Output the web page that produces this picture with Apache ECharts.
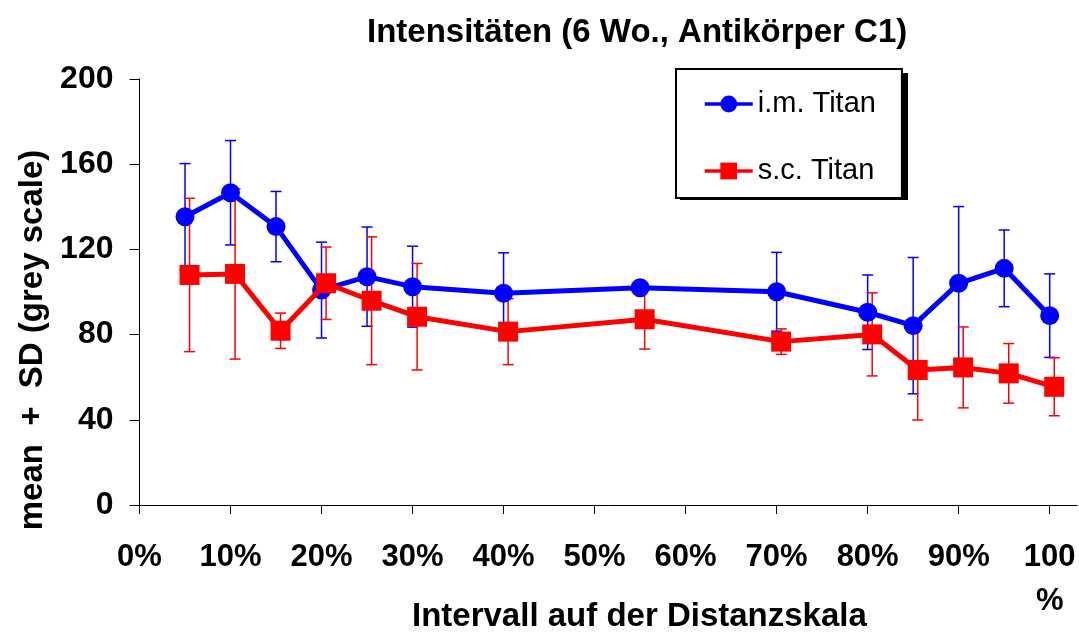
<!DOCTYPE html>
<html>
<head>
<meta charset="utf-8">
<script src="https://cdn.jsdelivr.net/npm/echarts@6/dist/echarts.min.js"></script>
<style>
  html, body { margin: 0; padding: 0; background: #fff; }
  #chart { width: 1079px; height: 633px; }
</style>
</head>
<body>
<div id="chart"></div>
<script>
// x ticks (percent of the distance scale)
const xTicks = [0, 10, 20, 30, 40, 50, 60, 70, 80, 90, 100];

// i.m. Titan
const imX = [5, 10, 15, 20, 25, 30, 40, 55, 70, 80, 85, 90, 95, 100];
const imMean = [135.3, 146.6, 130.7, 100.9, 107.2, 102.5, 99.4, 102, 100.1, 90.5, 84.2, 104.1, 111.1, 88.9];
const imSD = [25, 24.5, 16.5, 22.5, 23.3, 19, 19, 2, 18.5, 17.5, 32, 36, 18, 19.6];

// s.c. Titan (plotted slightly to the right)
const scX = [5.5, 10.5, 15.5, 20.5, 25.5, 30.5, 40.5, 55.5, 70.5, 80.5, 85.5, 90.5, 95.5, 100.5];
const scMean = [108, 108.5, 81.8, 104.1, 95.9, 88.4, 81.4, 87.2, 76.7, 80.1, 63.4, 64.6, 61.8, 55.5];
const scSD = [36, 40, 8.3, 17, 30, 25, 15.5, 14, 6, 19.5, 23.5, 19, 14, 13.6];

const FONT = 'Liberation Sans, Arial, sans-serif';

function pairs(xs, ys) {
  return xs.map((x, i) => [x, ys[i]]);
}
function triples(xs, ys, sds) {
  return xs.map((x, i) => [x, ys[i], sds[i]]);
}

// senkrechte Fehlerbalken mit Querstrichen
function errorBars(color) {
  return function (params, api) {
    const x = api.value(0), m = api.value(1), sd = api.value(2);
    const hi = api.coord([x, m + sd]);
    const lo = api.coord([x, m - sd]);
    const w = 5.5;
    const style = { stroke: color, lineWidth: 1.5 };
    return {
      type: 'group',
      children: [
        { type: 'line', shape: { x1: hi[0], y1: hi[1], x2: lo[0], y2: lo[1] }, style: style },
        { type: 'line', shape: { x1: hi[0] - w, y1: hi[1], x2: hi[0] + w, y2: hi[1] }, style: style },
        { type: 'line', shape: { x1: lo[0] - w, y1: lo[1], x2: lo[0] + w, y2: lo[1] }, style: style }
      ]
    };
  };
}

let chart = echarts.init(document.getElementById('chart'));
chart.setOption({
  animation: false,
  backgroundColor: '#fff',
  title: [
    {
      text: 'Intensitäten (6 Wo., Antikörper C1)',
      left: 362,
      top: 11,
      textStyle: { fontFamily: FONT, fontWeight: 'bold', fontSize: 33, color: '#000' }
    },
    {
      text: 'Intervall auf der Distanzskala',
      left: 407,
      top: 595,
      textStyle: { fontFamily: FONT, fontWeight: 'bold', fontSize: 33, color: '#000' }
    }
  ],
  graphic: [
    {
      type: 'text',
      x: 33,
      y: 340,
      rotation: Math.PI / 2,
      style: {
        text: 'mean  +  SD (grey scale)',
        font: 'bold 33px ' + FONT,
        fill: '#000',
        align: 'center',
        verticalAlign: 'middle'
      }
    },
    {
      // Schatten hinter der Legende
      type: 'rect',
      z: 0,
      shape: { x: 680, y: 73, width: 228, height: 127 },
      style: { fill: '#000' }
    }
  ],
  legend: {
    orient: 'vertical',
    left: 676,
    top: 69,
    z: 10,
    padding: [20, 26, 12, 27],
    itemWidth: 48,
    itemHeight: 21,
    itemGap: 37,
    backgroundColor: '#fff',
    borderColor: '#000',
    borderWidth: 2,
    borderRadius: 0,
    lineStyle: { width: 3.5 },
    textStyle: { fontFamily: FONT, fontSize: 29, color: '#000', lineHeight: 30 },
    data: ['i.m. Titan', 's.c. Titan']
  },
  grid: { left: 139.5, right: 2, top: 79, bottom: 128, containLabel: false },
  xAxis: {
    type: 'value',
    min: 0,
    max: 103,
    interval: 10,
    splitLine: { show: false },
    axisLine: { lineStyle: { color: '#000', width: 1 } },
    axisTick: { length: 9, lineStyle: { color: '#000' }, customValues: xTicks },
    axisLabel: {
      customValues: xTicks,
      margin: 30,
      fontFamily: FONT,
      fontWeight: 'bold',
      fontSize: 31,
      lineHeight: 44,
      color: '#000',
      formatter: v => (v === 100 ? '100\n%' : v + '%')
    }
  },
  yAxis: {
    type: 'value',
    min: 0,
    max: 200,
    interval: 40,
    splitLine: { show: false },
    axisLine: { show: true, lineStyle: { color: '#000', width: 1 } },
    axisTick: { show: true, length: 10, lineStyle: { color: '#000' } },
    axisLabel: { margin: 26, fontFamily: FONT, fontWeight: 'bold', fontSize: 32, color: '#000' }
  },
  series: [
    {
      name: 'im-sd',
      type: 'custom',
      z: 1,
      renderItem: errorBars('#0000ff'),
      encode: { x: 0, y: 1 },
      data: triples(imX, imMean, imSD)
    },
    {
      name: 'sc-sd',
      type: 'custom',
      z: 1,
      renderItem: errorBars('#ff0000'),
      encode: { x: 0, y: 1 },
      data: triples(scX, scMean, scSD)
    },
    {
      name: 'i.m. Titan',
      type: 'line',
      z: 2,
      clip: false,
      symbol: 'circle',
      symbolSize: 19,
      color: '#0000ff',
      lineStyle: { width: 5, color: '#0000ff' },
      itemStyle: { color: '#0000ff' },
      data: pairs(imX, imMean)
    },
    {
      name: 's.c. Titan',
      type: 'line',
      z: 3,
      clip: false,
      symbol: 'rect',
      symbolSize: 20,
      color: '#ff0000',
      lineStyle: { width: 5, color: '#ff0000' },
      itemStyle: { color: '#ff0000' },
      data: pairs(scX, scMean)
    }
  ]
});
</script>
</body>
</html>
